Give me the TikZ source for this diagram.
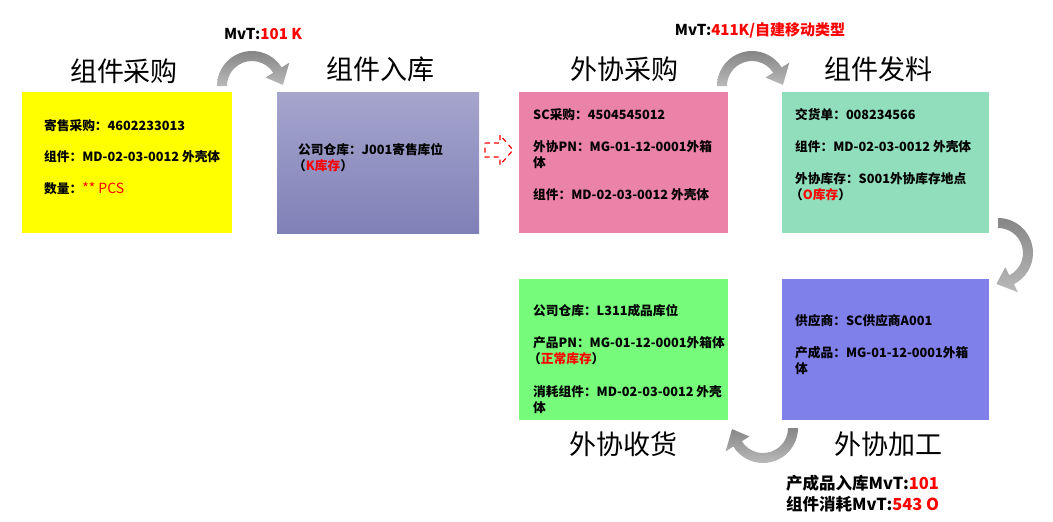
\documentclass[tikz,border=0pt]{standalone}
\usepackage{fontspec}
\setmainfont{Noto Sans CJK SC}
\usetikzlibrary{calc}
\definecolor{cyellow}{HTML}{FFFF00}
\definecolor{cgraytop}{HTML}{A5A5CD}
\definecolor{cgraybot}{HTML}{8080B8}
\definecolor{cpink}{HTML}{EB82A8}
\definecolor{cmint}{HTML}{90DEBB}
\definecolor{cgreen}{HTML}{76FB7A}
\definecolor{cblue}{HTML}{8080EB}
\definecolor{cred}{HTML}{FF0000}
\newcommand\bentarrow[4]{%
  \shade[arrowshade] ($(#1,#2)+(#3:35)$) arc[start angle=#3, end angle=#4, radius=35]
    -- ($(#1,#2)+(#4:44)$) -- ($(#1,#2)+(#4+30:31)$) -- ($(#1,#2)+(#4:16)$)
    -- ($(#1,#2)+(#4:25)$) arc[start angle=#4, end angle=#3, radius=25] -- cycle;}
\begin{document}
\begin{tikzpicture}[x=1pt,y=-1pt,
  boxn/.style={anchor=north west, inner sep=0pt, draw=none},
  txt/.style={anchor=west, inner sep=0pt, font=\bfseries\fontsize{12.7}{14}\selectfont},
  ttl/.style={inner sep=0pt, font=\fontsize{27}{30}\selectfont},
  mvt/.style={inner sep=0pt, font=\bfseries\fontsize{15}{17}\selectfont},
  low/.style={anchor=west, inner sep=0pt, font=\bfseries\fontsize{16.5}{18}\selectfont},
  arrowshade/.style={top color=gray!95, bottom color=gray!55}]
\useasboundingbox (0,0) rectangle (1053,522);
% boxes
\node[boxn, fill=cyellow, minimum width=210pt, minimum height=141pt] (b1) at (22,92) {};
\node[boxn, top color=cgraytop, bottom color=cgraybot, minimum width=202pt, minimum height=141pt] (b2) at (277,92) {};
\node[boxn, fill=cpink, minimum width=209pt, minimum height=141pt] (b3) at (519,92) {};
\node[boxn, fill=cmint, minimum width=207pt, minimum height=141pt] (b4) at (782,92) {};
\node[boxn, fill=cgreen, minimum width=209pt, minimum height=141pt] (b6) at (519,279) {};
\node[boxn, fill=cblue, minimum width=207pt, minimum height=141pt] (b5) at (782,279) {};
% titles
\node[ttl] (t1) at (124,71) {组件采购};
\node[ttl] (t2) at (380,69) {组件入库};
\node[ttl] (t3) at (624,69) {外协采购};
\node[ttl] (t4) at (878,69) {组件发料};
\node[ttl] (t6) at (623,444) {外协收货};
\node[ttl] (t5) at (888,444) {外协加工};
% box texts
\node[txt] (y1) at (44,126) {寄售采购：4602233013};
\node[txt] (y2) at (44,157) {组件：MD-02-03-0012 外壳体};
\node[txt] (y3) at (44,189) {数量：\textcolor{cred}{\mdseries\fontsize{14}{16}\selectfont ** PCS}};
\node[txt] (g1) at (298,150) {公司仓库：J001寄售库位};
\node[txt] (g2) at (293,166) {（\textcolor{cred}{K库存}）};
\node[txt] (p1) at (533,115) {SC采购：4504545012};
\node[txt] (p2) at (533,147) {外协PN：MG-01-12-0001外箱};
\node[txt] (p3) at (533,163) {体};
\node[txt] (p4) at (533,195) {组件：MD-02-03-0012 外壳体};
\node[txt] (m1) at (795,115) {交货单：008234566};
\node[txt] (m2) at (795,147) {组件：MD-02-03-0012 外壳体};
\node[txt] (m3) at (795,179) {外协库存：S001外协库存地点};
\node[txt] (m4) at (790,195) {（\textcolor{cred}{O库存}）};
\node[txt] (n1) at (533,311) {公司仓库：L311成品库位};
\node[txt] (n2) at (533,343) {产品PN：MG-01-12-0001外箱体};
\node[txt] (n3) at (528,359) {（\textcolor{cred}{正常库存}）};
\node[txt] (n4) at (533,392) {消耗组件：MD-02-03-0012 外壳};
\node[txt] (n5) at (533,408) {体};
\node[txt] (v1) at (795,321) {供应商：SC供应商A001};
\node[txt] (v2) at (795,353) {产成品：MG-01-12-0001外箱};
\node[txt] (v3) at (795,369) {体};
% movement labels
\node[mvt] (l1) at (263,34) {MvT:\textcolor{cred}{101 K}};
\node[mvt] (l2) at (760,30) {MvT:\textcolor{cred}{411K/自建移动类型}};
\node[low] (l3) at (786,483) {产成品入库MvT:\textcolor{cred}{101}};
\node[low] (l4) at (786,504) {组件消耗MvT:\textcolor{cred}{543 O}};
% curved arrows
\bentarrow{252}{86}{180}{328}
\bentarrow{752}{86}{180}{328}
\bentarrow{998}{253}{270}{423}
\bentarrow{763}{428}{0}{148}
% dashed block arrow between b2 and b3
\draw[cred, line width=1.2pt, dash pattern=on 5pt off 4pt]
  (485,143) -- (500,143) -- (500,135) -- (513,150) -- (500,165) -- (500,157) -- (485,157) -- cycle;
\end{tikzpicture}
\end{document}
